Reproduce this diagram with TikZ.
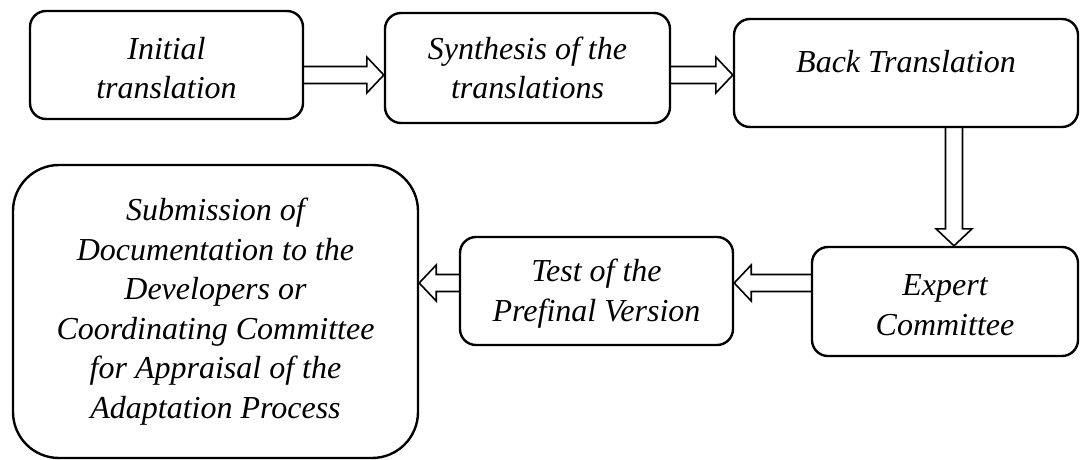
\documentclass[tikz,border=0pt]{standalone}
\usepackage{fontspec}
\setmainfont{Liberation Serif}
\newfontfamily\stepfont{Liberation Serif Italic}
\usetikzlibrary{calc}

% taller first line, which sets a two-line label a little lower in its box
\newcommand\highline{\rule{0pt}{28pt}}

% hollow block arrow from coordinate #1 to coordinate #2
\newcommand\blockarrow[2]{%
  \coordinate (#1-#2) at ($(#2)!17pt!(#1)$);
  \draw[arrowline]
    ($(#1)!8.5pt!90:(#2)$) -- ($(#1-#2)!8.5pt!90:(#2)$) --
    ($(#1-#2)!18pt!90:(#2)$) -- (#2) --
    ($(#1-#2)!18pt!-90:(#2)$) -- ($(#1-#2)!8.5pt!-90:(#2)$) --
    ($(#1)!8.5pt!-90:(#2)$);
}

\tikzset{
  box/.style={draw, line width=2.4pt, rounded corners=16pt, align=center,
    inner sep=0pt, font=\stepfont\fontsize{32}{39.5}\selectfont},
  bigbox/.style={box, rounded corners=46pt},
  arrowline/.style={draw, line width=1.6pt, line join=miter},
}

\begin{document}
\begin{tikzpicture}[x=1pt,y=-1pt]
\useasboundingbox (0,0) rectangle (1080,459);

% steps of the process
\node[box, minimum width=273pt, minimum height=108pt] (b1) at (166.5,65)
  {\highline Initial\\translation};
\node[box, minimum width=285pt, minimum height=110pt] (b2) at (527.5,68)
  {Synthesis of the\\translations};
\node[box, minimum width=344pt, minimum height=108pt] (b3) at (906,73)
  {\raisebox{11pt}[\height][\depth]{Back Translation}};
\node[box, minimum width=266pt, minimum height=109pt] (b4) at (945,301.5)
  {\highline Expert\\Committee};
\node[box, minimum width=273pt, minimum height=108pt] (b5) at (596.5,291)
  {\highline Test of the\\Prefinal Version};
\node[bigbox, minimum width=405pt, minimum height=293pt] (b6) at (215.5,311.5)
  {Submission of\\Documentation to the\\Developers or\\Coordinating Committee\\for Appraisal of the\\Adaptation Process};

% connector levels
\coordinate (top) at (0,75);
\coordinate (mid) at (0,283);
\coordinate (col) at (954,0);

\coordinate (a1s) at (b1.east |- top);
\coordinate (a1e) at (b2.west |- top);
\coordinate (a2s) at (b2.east |- top);
\coordinate (a2e) at (b3.west |- top);
\coordinate (a3s) at (b3.south -| col);
\coordinate (a3e) at (b4.north -| col);
\coordinate (a4s) at (b4.west |- mid);
\coordinate (a4e) at (b5.east |- mid);
\coordinate (a5s) at (b5.west |- mid);
\coordinate (a5e) at (b6.east |- mid);

\blockarrow{a1s}{a1e}
\blockarrow{a2s}{a2e}
\blockarrow{a3s}{a3e}
\blockarrow{a4s}{a4e}
\blockarrow{a5s}{a5e}
\end{tikzpicture}
\end{document}
